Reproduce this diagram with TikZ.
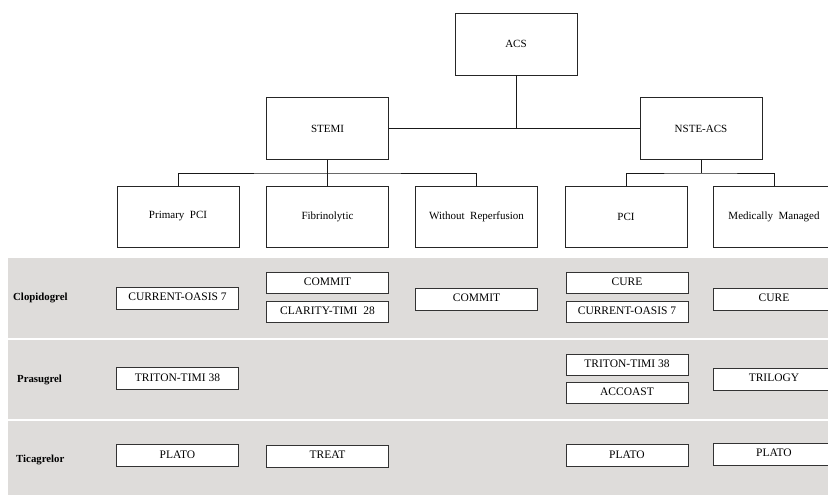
\documentclass[tikz,border=0pt]{standalone}
\usepackage{fontspec}
\setmainfont{Liberation Serif}
\begin{document}
\begin{tikzpicture}[x=1pt,y=-1pt,
  treebox/.style={draw=black!85,line width=0.9pt,fill=white,minimum width=122pt,minimum height=62pt,inner sep=0pt,font=\fontsize{11}{12}\selectfont},
  trialbox/.style={draw=black!80,line width=0.9pt,fill=white,minimum width=122pt,minimum height=22pt,inner sep=0pt,text depth=2.5pt,font=\fontsize{11.5}{12}\selectfont},
  druglabel/.style={anchor=west,inner sep=0pt,font=\bfseries\fontsize{10.8}{12}\selectfont},
  link/.style={draw=black!90,line width=0.9pt},
  sep/.style={draw=white,line width=1.5pt}]
\clip (0,0) rectangle (828,495);
\fill[white] (0,0) rectangle (828,495);

% shaded table area with row separators
\fill[fill={rgb,255:red,222;green,220;blue,218}] (8,258) rectangle (840,495);
\draw[sep] (8,339) -- (840,339);
\draw[sep] (8,420) -- (840,420);

% classification tree
\node[treebox] (acs) at (516,44) {ACS};
\node[treebox] (stemi) at (327.5,128.5) {STEMI};
\node[treebox] (nste) at (701,128.5) {NSTE-ACS};

\node[treebox,minimum height=61pt] (ppci) at (178,216.5) {Primary\ \ PCI};
\node[treebox,minimum height=61pt] (fib) at (327.5,216.5) {Fibrinolytic};
\node[treebox,minimum height=61pt] (wrep) at (476.5,216.5) {Without\ \ Reperfusion};
\node[treebox,minimum height=61pt] (pci) at (626,216.5) {PCI};
\node[treebox,minimum height=61pt] (mm) at (774,216.5) {Medically\ \ Managed};

\coordinate (hub) at (acs.south |- stemi.east);
\draw[link] (acs.south) -- (hub);
\draw[link] (stemi.east) -- (nste.west);

\coordinate (sbar) at (stemi.south |- 0,173);
\draw[link] (stemi.south) -- (fib.north);
\draw[link] (ppci.north) |- (sbar) -| (wrep.north);

\coordinate (nbar) at (nste.south |- 0,173);
\draw[link] (nste.south) -- (nbar);
\draw[link] (pci.north) |- (nbar) -| (mm.north);

% drug rows
\node[druglabel] (clop) at (13,298) {Clopidogrel};
\node[druglabel] (pras) at (17,380) {Prasugrel};
\node[druglabel] (tica) at (16,460) {Ticagrelor};

% Clopidogrel trials
\node[trialbox] (c1) at (177.5,298) {CURRENT-OASIS 7};
\node[trialbox,minimum height=21pt] (c2) at (327.5,282.5) {COMMIT};
\node[trialbox,minimum height=21pt] (c3) at (327.5,311.5) {CLARITY-TIMI\ \ 28};
\node[trialbox] (c4) at (476.5,299) {COMMIT};
\node[trialbox,minimum height=21pt] (c5) at (627,283) {CURE};
\node[trialbox,minimum height=21pt] (c6) at (627,311.5) {CURRENT-OASIS 7};
\node[trialbox] (c7) at (774,299) {CURE};

% Prasugrel trials
\node[trialbox] (p1) at (177.5,378.5) {TRITON-TIMI 38};
\node[trialbox,minimum height=21pt] (p2) at (627,365) {TRITON-TIMI 38};
\node[trialbox,minimum height=21pt] (p3) at (627,392.5) {ACCOAST};
\node[trialbox] (p4) at (774,379) {TRILOGY};

% Ticagrelor trials
\node[trialbox] (t1) at (177.5,455.5) {PLATO};
\node[trialbox] (t2) at (327.5,456) {TREAT};
\node[trialbox] (t3) at (627,455.5) {PLATO};
\node[trialbox] (t4) at (774,454) {PLATO};
\end{tikzpicture}
\end{document}
